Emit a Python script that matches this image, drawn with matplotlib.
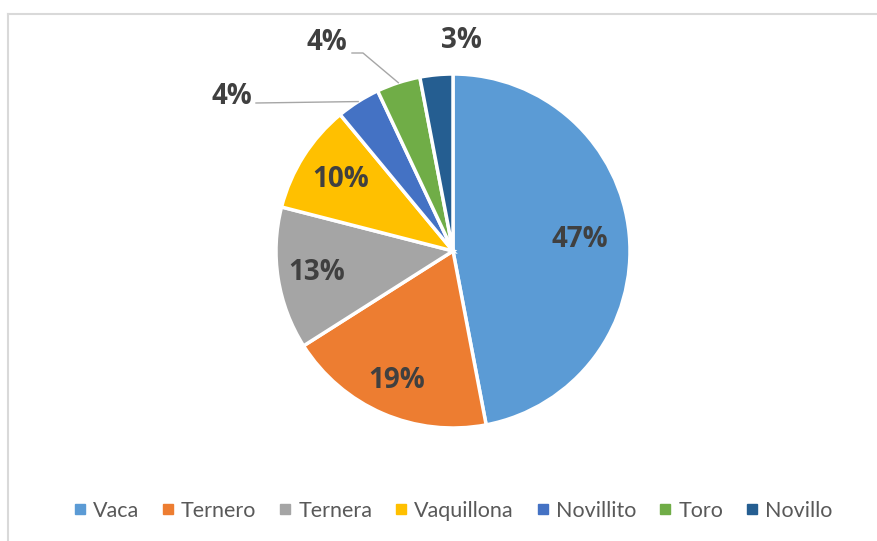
import numpy as np
import matplotlib.pyplot as plt
from matplotlib.lines import Line2D

# Daten
kategorien = ['Vaca', 'Ternero', 'Ternera', 'Vaquillona', 'Novillito', 'Toro', 'Novillo']
anteile = [47, 19, 13, 10, 4, 4, 3]
farben = ['#5B9BD5', '#ED7D31', '#A5A5A5', '#FFC000', '#4472C4', '#70AD47', '#255E91']

# Abstand der inneren Beschriftungen (Anteil vom Radius)
innen_abstand = [0.72, 0.80, 0.78, 0.75]
# Aeussere Beschriftungen: Textposition in Pixeln (x, y von oben)
aussen_text = {4: (232, 96), 5: (327, 42), 6: (461, 40)}

W, H = 878, 541
fig = plt.figure(figsize=(W / 100, H / 100), dpi=100)
ax = fig.add_axes([0, 0, 1, 1])

# Rahmen (nur oben und links sichtbar)
ax.plot([8, W], [H - 14, H - 14], color='#D9D9D9', lw=1.5)
ax.plot([8, 8], [H - 14, 0], color='#D9D9D9', lw=1.5)

cx, cy, R = 453, H - 251, 177
wedges, _ = ax.pie(anteile, colors=farben, startangle=90, counterclock=False,
                   center=(cx, cy), radius=R, frame=True,
                   wedgeprops=dict(edgecolor='white', linewidth=2.5))
ax.set_xlim(0, W)
ax.set_ylim(0, H)
ax.set_aspect('equal')
ax.axis('off')

txt_farbe = '#404040'
fs = 20
schrift = 'Open Sans'
for i, w in enumerate(wedges):
    mitte = np.deg2rad((w.theta1 + w.theta2) / 2)
    label = f'{anteile[i]}%'
    if i < len(innen_abstand):
        r = innen_abstand[i] * R
        ax.text(cx + r * np.cos(mitte), cy + r * np.sin(mitte), label,
                ha='center', va='center', fontsize=fs, fontweight='bold',
                color=txt_farbe, family=schrift)
    else:
        tx, ty = aussen_text[i]
        ax.text(tx, H - ty, label, ha='center', va='center', fontsize=fs,
                fontweight='bold', color=txt_farbe, family=schrift)
        rand = (cx + R * np.cos(mitte), cy + R * np.sin(mitte))
        if i == 4:
            ax.plot([256, rand[0]], [H - 103, rand[1]], color='#A6A6A6', lw=1)
        elif i == 5:
            ax.plot([352, 363, rand[0]], [H - 53, H - 53, rand[1]], color='#A6A6A6', lw=1)

# Legende
handles = [Line2D([0], [0], marker='s', linestyle='none', markersize=6.5,
                  markerfacecolor=f, markeredgecolor=f) for f in farben]
leg = ax.legend(handles, kategorien, loc='center', bbox_to_anchor=(453 / W, 1 - 511 / H),
                ncol=7, frameon=False, handlelength=0.6, handletextpad=0.3,
                columnspacing=1.05, prop={'family': 'Lato', 'size': 15.5})
for t in leg.get_texts():
    t.set_color('#595959')

plt.savefig('out.png', dpi=100)
